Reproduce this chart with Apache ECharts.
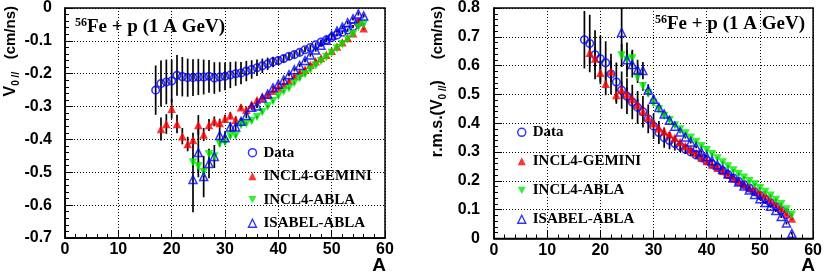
<!DOCTYPE html>
<html><head><meta charset="utf-8">
<script src="https://cdn.jsdelivr.net/npm/echarts@6/dist/echarts.min.js"></script>
<style>html,body{margin:0;padding:0;background:#fff}#c{width:825px;height:273px}</style>
</head><body><div id="c"></div>
<script>
// ---------- categories (mass number A) ----------
const A_data = [17,18,19,20,21,22,23,24,25,26,27,28,29,30,31,32,33,34,35,36,37,38,39,40,41,42,43,44,45,46,47,48,49,50,51,52,53,54,55];
const A_gem  = [18,19,20,21,22,23,24,25,26,27,28,29,30,31,32,33,34,35,36,37,38,39,40,41,42,43,44,45,46,47,48,49,50,51,52,53,54,55,56];
const A_abla = [24,25,26,27,28,29,30,31,32,33,34,35,36,37,38,39,40,41,42,43,44,45,46,47,48,49,50,51,52,53,54,55,56];
const A_isa  = [24,25,26,27,28,29,30,31,32,33,34,35,36,37,38,39,40,41,42,43,44,45,46,47,48,49,50,51,52,53,54,55,56];

// ---------- left panel: mean V0// (cm/ns) ----------
const L_data = [-0.250,-0.230,-0.225,-0.222,-0.205,-0.209,-0.212,-0.212,-0.210,-0.210,-0.208,-0.213,-0.210,-0.208,-0.204,-0.200,-0.198,-0.192,-0.187,-0.182,-0.176,-0.170,-0.164,-0.160,-0.154,-0.147,-0.142,-0.135,-0.127,-0.120,-0.112,-0.104,-0.097,-0.090,-0.082,-0.074,-0.067,-0.057,-0.045];
const L_data_err = [0.075,0.070,0.068,0.065,0.062,0.060,0.058,0.056,0.055,0.053,0.050,0.048,0.045,0.042,0.040,0.037,0.034,0.031,0.028,0.025,0.022,0.019,0.016,0.014,0.012,0.011,0.010,0.009,0.008,0.008,0.007,0.007,0.006,0.006,0.005,0.005,0.005,0.005,0.005];
const L_gem = [-0.368,-0.353,-0.307,-0.353,-0.390,-0.414,-0.402,-0.356,-0.385,-0.356,-0.345,-0.350,-0.337,-0.327,-0.340,-0.302,-0.310,-0.294,-0.280,-0.272,-0.265,-0.252,-0.242,-0.232,-0.222,-0.208,-0.196,-0.187,-0.173,-0.162,-0.152,-0.142,-0.130,-0.117,-0.104,-0.091,-0.077,-0.040,-0.062];
const L_gem_err = [0.035,0.030,0.030,0.028,0.025,0.022,0.022,0.030,0.020,0.018,0.015,0.013,0.012,0.010,0.010,0.008,0.008,0.007,0.006,0.006,0.005,0.005,0.005,0.005,0.005,0.005,0.005,0.005,0.005,0.005,0.005,0.005,0.005,0.005,0.005,0.005,0.005,0.005,0.005];
const L_abla = [-0.470,-0.482,-0.500,-0.445,-0.452,-0.414,-0.409,-0.390,-0.389,-0.357,-0.352,-0.344,-0.332,-0.317,-0.300,-0.284,-0.268,-0.254,-0.244,-0.228,-0.214,-0.202,-0.188,-0.175,-0.162,-0.150,-0.137,-0.123,-0.110,-0.095,-0.080,-0.058,-0.050];
const L_abla_err = [0.015,0.015,0.015,0.012,0.010,0.008,0.008,0.006,0.006,0.005,0.005,0.005,0.005,0.005,0.005,0.005,0.005,0.005,0.005,0.005,0.005,0.005,0.005,0.005,0.005,0.005,0.005,0.005,0.005,0.005,0.005,0.005,0.005];
const L_isa = [-0.522,-0.440,-0.513,-0.473,-0.452,-0.388,-0.395,-0.362,-0.362,-0.345,-0.327,-0.302,-0.298,-0.274,-0.262,-0.243,-0.232,-0.219,-0.203,-0.188,-0.175,-0.160,-0.143,-0.128,-0.113,-0.098,-0.083,-0.070,-0.058,-0.045,-0.033,-0.018,-0.024];
const L_isa_err = [0.100,0.075,0.063,0.045,0.035,0.025,0.020,0.015,0.012,0.010,0.008,0.008,0.006,0.006,0.005,0.005,0.005,0.005,0.005,0.005,0.005,0.005,0.005,0.005,0.005,0.005,0.005,0.005,0.005,0.005,0.005,0.005,0.005];

// ---------- right panel: r.m.s.(V0//) (cm/ns) ----------
const R_data = [0.690,0.677,0.638,0.624,0.610,0.571,0.543,0.515,0.494,0.474,0.455,0.440,0.415,0.390,0.368,0.350,0.340,0.330,0.320,0.310,0.300,0.290,0.280,0.270,0.258,0.247,0.235,0.222,0.210,0.198,0.187,0.175,0.162,0.150,0.137,0.124,0.111,0.097,0.083];
const R_data_err = [0.100,0.100,0.085,0.080,0.075,0.070,0.068,0.065,0.062,0.060,0.057,0.055,0.050,0.045,0.040,0.035,0.030,0.025,0.020,0.017,0.014,0.012,0.010,0.009,0.008,0.007,0.006,0.005,0.005,0.005,0.005,0.005,0.005,0.005,0.005,0.005,0.005,0.005,0.005];
const R_gem = [0.645,0.625,0.575,0.537,0.580,0.498,0.515,0.500,0.484,0.463,0.442,0.420,0.400,0.383,0.372,0.362,0.350,0.335,0.321,0.309,0.297,0.281,0.269,0.257,0.246,0.235,0.223,0.212,0.200,0.189,0.178,0.170,0.160,0.149,0.133,0.120,0.104,0.087,0.069];
const R_gem_err = [0.040,0.040,0.040,0.040,0.035,0.030,0.030,0.025,0.020,0.020,0.015,0.010,0.010,0.008,0.008,0.006,0.006,0.005,0.005,0.005,0.005,0.005,0.005,0.005,0.005,0.005,0.005,0.005,0.005,0.005,0.005,0.005,0.005,0.005,0.005,0.005,0.005,0.005,0.005];
const R_abla = [0.635,0.620,0.625,0.560,0.528,0.503,0.470,0.448,0.425,0.410,0.392,0.378,0.364,0.350,0.335,0.320,0.306,0.292,0.278,0.264,0.250,0.236,0.223,0.211,0.199,0.187,0.174,0.161,0.148,0.134,0.119,0.101,0.082];
const R_abla_err = [0.040,0.035,0.030,0.020,0.015,0.010,0.008,0.006,0.005,0.005,0.005,0.005,0.005,0.005,0.005,0.005,0.005,0.005,0.005,0.005,0.005,0.005,0.005,0.005,0.005,0.005,0.005,0.005,0.005,0.005,0.005,0.005,0.005];
const R_isa = [0.715,0.620,0.604,0.585,0.583,0.515,0.483,0.455,0.432,0.410,0.390,0.370,0.352,0.335,0.318,0.300,0.285,0.270,0.255,0.240,0.225,0.210,0.196,0.182,0.168,0.153,0.138,0.125,0.112,0.097,0.076,0.054,0.018];
const R_isa_err = [0.090,0.060,0.045,0.035,0.030,0.020,0.015,0.010,0.008,0.006,0.005,0.005,0.005,0.005,0.005,0.005,0.005,0.005,0.005,0.005,0.005,0.005,0.005,0.005,0.005,0.005,0.005,0.005,0.005,0.005,0.005,0.005,0.005];

// ---------- tick labels ----------
const xTicks = [0,10,20,30,40,50,60];
const L_yTicks = [0,-0.1,-0.2,-0.3,-0.4,-0.5,-0.6,-0.7];
const R_yTicks = [0,0.1,0.2,0.3,0.4,0.5,0.6,0.7,0.8];

const names = ['Data','INCL4-GEMINI','INCL4-ABLA','ISABEL-ABLA'];
const BLUE='#0000ff', RED='#ff0000', GREEN='#00ee00';
const SANS='"Liberation Sans", Arial, Helvetica, sans-serif';
const SERIF='"Liberation Serif", "Times New Roman", serif';

function pts(A,v){return A.map((a,i)=>[a,v[i]]);}
function errs(A,v,e){return A.map((a,i)=>[a,v[i]-e[i],v[i]+e[i]]);}
function renderErr(params, api){
  const a=api.value(0), lo=api.value(1), hi=api.value(2);
  const p1=api.coord([a,lo]), p2=api.coord([a,hi]);
  return {type:'line', shape:{x1:p1[0],y1:p1[1],x2:p2[0],y2:p2[1]}, style:{stroke:'#000', lineWidth:1.7}};
}
const styles = [
  {symbol:'circle', symbolSize:7.5, symbolRotate:0, itemStyle:{color:'rgba(0,0,0,0)', borderColor:BLUE, borderWidth:1.6}},
  {symbol:'triangle', symbolSize:8.5, symbolRotate:0, itemStyle:{color:RED}},
  {symbol:'triangle', symbolSize:8.5, symbolRotate:180, itemStyle:{color:GREEN}},
  {symbol:'triangle', symbolSize:8, symbolRotate:0, itemStyle:{color:'rgba(0,0,0,0)', borderColor:BLUE, borderWidth:1.5}}
];
function makeSeries(idx, sets){
  const out=[];
  sets.forEach((s,k)=>{
    out.push({type:'custom', name:'err'+idx+'_'+k, xAxisIndex:idx, yAxisIndex:idx, renderItem:renderErr, clip:true,
      encode:{x:0,y:[1,2]}, data:errs(s[0],s[1],s[2]), silent:true, z:2});
    out.push(Object.assign({type:'scatter', name:names[k], xAxisIndex:idx, yAxisIndex:idx, data:pts(s[0],s[1]), z:3, silent:true}, styles[k]));
  });
  return out;
}
const series = [].concat(
  makeSeries(0, [[A_data,L_data,L_data_err],[A_gem,L_gem,L_gem_err],[A_abla,L_abla,L_abla_err],[A_isa,L_isa,L_isa_err]]),
  makeSeries(1, [[A_data,R_data,R_data_err],[A_gem,R_gem,R_gem_err],[A_abla,R_abla,R_abla_err],[A_isa,R_isa,R_isa_err]])
);

function xAxis(gi){
  return {type:'value', gridIndex:gi, min:xTicks[0], max:xTicks[xTicks.length-1], interval:10,
    axisLine:{show:true, onZero:false, lineStyle:{color:'#000', width:1.5}},
    axisTick:{show:true, inside:true, length:8, lineStyle:{color:'#000', width:1}},
    minorTick:{show:true, splitNumber:5, length:4, lineStyle:{color:'#000', width:1}},
    splitLine:{show:true, lineStyle:{color:'#000', width:1, type:[1,2]}},
    axisLabel:{margin:4, fontFamily:SANS, fontWeight:'bold', fontSize:16, color:'#000', verticalAlign:'top',
      formatter:v=>String(Math.round(v))}
  };
}
function yAxis(gi, ticks, margin){
  const mn=Math.min.apply(null,ticks), mx=Math.max.apply(null,ticks);
  return {type:'value', gridIndex:gi, min:mn, max:mx, interval:0.1,
    axisLine:{show:true, onZero:false, lineStyle:{color:'#000', width:1.5}},
    axisTick:{show:true, inside:true, length:8, lineStyle:{color:'#000', width:1}},
    minorTick:{show:true, splitNumber:5, length:4, lineStyle:{color:'#000', width:1}},
    splitLine:{show:true, lineStyle:{color:'#000', width:1, type:[1,2]}},
    axisLabel:{margin:margin, fontFamily:SANS, fontWeight:'bold', fontSize:16, color:'#000',
      formatter:v=>{const r=Math.round(v*10)/10; return r===0?'0':r.toFixed(1);}}
  };
}
function legend(left, top, gap){
  return {orient:'vertical', left:left, top:top, padding:0, itemWidth:8, itemHeight:8, itemGap:gap,
    selectedMode:false,
    textStyle:{fontFamily:SERIF, fontWeight:'bold', fontSize:15, color:'#000', lineHeight:16, padding:[0,0,0,2]},
    data:[
      {name:'Data', icon:'circle', itemStyle:{color:'rgba(0,0,0,0)', borderColor:BLUE, borderWidth:1.5}},
      {name:'INCL4-GEMINI', icon:'triangle', itemStyle:{color:RED}},
      {name:'INCL4-ABLA', icon:'path://M0,0L10,0L5,9Z', itemStyle:{color:GREEN}},
      {name:'ISABEL-ABLA', icon:'triangle', itemStyle:{color:'rgba(0,0,0,0)', borderColor:BLUE, borderWidth:1.4}}
    ]};
}
const titleRich = {
  sup:{fontFamily:SERIF, fontWeight:'bold', fontSize:12, verticalAlign:'top', fill:'#000'},
  t:{fontFamily:SERIF, fontWeight:'bold', fontSize:19, lineHeight:20, fill:'#000'}
};
const ytRich = {
  v:{fontFamily:SANS, fontWeight:'bold', fontSize:16, lineHeight:21, fill:'#000'},
  u:{fontFamily:SANS, fontWeight:'bold', fontSize:15, lineHeight:21, fill:'#000'},
  s:{fontFamily:SANS, fontWeight:'bold', fontSize:10, verticalAlign:'bottom', fill:'#000'}
};
const option = {
  animation:false,
  backgroundColor:'#fff',
  grid:[
    {left:65, top:6, width:320, height:232, show:true, borderColor:'#000', borderWidth:1.5, backgroundColor:'transparent'},
    {left:494, top:5, width:320, height:233.5, show:true, borderColor:'#000', borderWidth:1.5, backgroundColor:'transparent'}
  ],
  xAxis:[xAxis(0), xAxis(1)],
  yAxis:[yAxis(0, L_yTicks, 13), yAxis(1, R_yTicks, 14)],
  legend:[legend(247.7, 144.7, 7.5), legend(517, 124.3, 13)],
  series:series,
  graphic:[
    {type:'text', x:75, y:26.6, silent:true, style:{text:'{sup|56}{t|Fe + p (1 A GeV)}', rich:titleRich, verticalAlign:'middle'}},
    {type:'text', x:655, y:24.3, silent:true, style:{text:'{sup|56}{t|Fe + p (1 A GeV)}', rich:titleRich, verticalAlign:'middle'}},
    {type:'text', x:11, y:6, rotation:Math.PI/2, silent:true, style:{text:'{v|V}{s|0 //}{u|   (cm/ns)}', rich:ytRich, align:'right', verticalAlign:'middle'}},
    {type:'text', x:438, y:6, rotation:Math.PI/2, silent:true, style:{text:'{v|r.m.s.(V}{s|0 //}{v|)}{u|     (cm/ns)}', rich:ytRich, align:'right', verticalAlign:'middle'}},
    {type:'text', x:386, y:256, silent:true, style:{text:'A', fontFamily:SANS, fontWeight:'bold', fontSize:19, fill:'#000', align:'right', verticalAlign:'top'}},
    {type:'text', x:815, y:256, silent:true, style:{text:'A', fontFamily:SANS, fontWeight:'bold', fontSize:19, fill:'#000', align:'right', verticalAlign:'top'}}
  ]
};
const chart = echarts.init(document.getElementById('c'), null, {renderer:'canvas'});
chart.setOption(option);
</script></body></html>
